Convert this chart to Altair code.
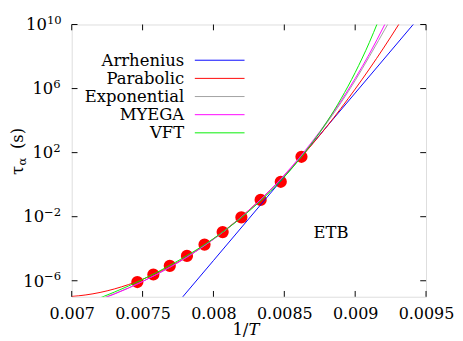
import altair as alt
import pandas as pd

# ---------------- data (1/T in K^-1, log10 of tau_alpha in s) ----------------
pts_invT = [0.007463, 0.007576, 0.007692, 0.007813, 0.007937, 0.008065,
            0.008197, 0.008333, 0.008475, 0.008621]
pts_log = [-6.08, -5.61, -5.07, -4.45, -3.74, -2.96, -2.04, -0.95, 0.18, 1.74]

arrh_invT = [0.0077, 0.0078, 0.0080, 0.0085, 0.0090, 0.0095]
arrh_log = [-7.88, -6.83, -4.74, 0.49, 5.72, 10.95]

para_invT = [0.0069, 0.0070, 0.0072, 0.0074, 0.0076, 0.0078, 0.0080, 0.0082,
             0.0084, 0.0086, 0.0088, 0.0090, 0.0092, 0.00931]
para_log = [-7.02, -6.98, -6.73, -6.24, -5.52, -4.57, -3.39, -1.98,
            -0.34, 1.53, 3.63, 5.97, 8.53, 10.04]

expo_invT = [0.0072, 0.0074, 0.0076, 0.0078, 0.0080, 0.0082, 0.0084, 0.0086,
             0.0088, 0.0090, 0.0091, 0.00923]
expo_log = [-7.15, -6.45, -5.60, -4.60, -3.41, -2.01, -0.36, 1.58,
            3.85, 6.50, 8.00, 10.02]

myega_invT = [0.0072, 0.0074, 0.0076, 0.0078, 0.0080, 0.0082, 0.0084, 0.0086,
              0.0088, 0.0090, 0.0091, 0.00921]
myega_log = [-7.18, -6.46, -5.60, -4.59, -3.40, -2.00, -0.34, 1.62,
             3.92, 6.63, 8.16, 10.02]

vft_invT = [0.0072, 0.0074, 0.0076, 0.0078, 0.0080, 0.0082, 0.0084, 0.0086,
            0.0088, 0.0089, 0.0090, 0.0091, 0.00916]
vft_log = [-7.07, -6.33, -5.48, -4.50, -3.37, -2.03, -0.44, 1.51,
           3.92, 5.36, 7.00, 8.88, 10.15]

model_names = ["Arrhenius", "Parabolic", "Exponential", "MYEGA", "VFT"]
model_colors = ["#0000ff", "#ff0000", "#a0a0a0", "#ff00ff", "#00ee00"]
model_x = [arrh_invT, para_invT, expo_invT, myega_invT, vft_invT]
model_y = [arrh_log, para_log, expo_log, myega_log, vft_log]

x_ticks = [0.007, 0.0075, 0.008, 0.0085, 0.009, 0.0095]
y_exps = [-6, -2, 2, 6, 10]

# ---------------- chart ----------------
W, H = 367, 282
FONT = "DejaVu Serif"
FS = 17
xscale = alt.Scale(domain=[0.007, 0.0095], nice=False, zero=False)
yscale = alt.Scale(type="log", domain=[1e-7, 1e10], nice=False)

pts_df = pd.DataFrame({"x": pts_invT, "tau": [10 ** v for v in pts_log]})
points = alt.Chart(pts_df).mark_circle(color="#ff0000", opacity=1, size=160).encode(
    x=alt.X("x:Q", scale=xscale,
            axis=alt.Axis(values=x_ticks, format="~g", title=None, labelFont=FONT,
                          labelFontSize=16.5, labelColor="black", ticks=False, domain=False,
                          grid=False, labelBaseline="alphabetic", labelPadding=23,
                          labelFlush=False, labelOverlap=False)),
    y=alt.Y("tau:Q", scale=yscale, axis=None),
)

layers = [points]
for name, col, xs, ys in zip(model_names, model_colors, model_x, model_y):
    df = pd.DataFrame({"x": xs, "tau": [10 ** v for v in ys]})
    layers.append(
        alt.Chart(df).mark_line(color=col, strokeWidth=1, clip=True, interpolate="monotone").encode(
            x=alt.X("x:Q", scale=xscale), y=alt.Y("tau:Q", scale=yscale))
    )

# inward ticks on all four sides
xt_df = pd.DataFrame({"v": x_ticks})
yt_df = pd.DataFrame({"v": [10.0 ** e for e in y_exps]})
for y0, y1 in [(H, H - 6), (0, 6)]:
    layers.append(alt.Chart(xt_df).mark_rule(color="black", strokeWidth=1).encode(
        x=alt.X("v:Q", scale=xscale), y=alt.value(y0), y2=alt.value(y1)))
for x0, x1 in [(0, 6), (W, W - 6)]:
    layers.append(alt.Chart(yt_df).mark_rule(color="black", strokeWidth=1).encode(
        y=alt.Y("v:Q", scale=yscale), x=alt.value(x0), x2=alt.value(x1)))

# y tick labels 10^n
ylab = alt.Chart(pd.DataFrame({"e": y_exps})).transform_calculate(
    tau="pow(10, datum.e)",
    etxt="(datum.e < 0 ? '\u2212' : '') + abs(datum.e)",
    xe="-12.5 - 6.6*length(toString(abs(datum.e))) - (datum.e < 0 ? 9.5 : 0)",
)
layers.append(ylab.mark_text(align="right", baseline="alphabetic", dy=6, font=FONT,
                             fontSize=FS, color="black").encode(
    x=alt.X("xe:Q", scale=None), y=alt.Y("tau:Q", scale=yscale), text=alt.value("10")))
layers.append(ylab.mark_text(align="left", baseline="alphabetic", dy=-1, font=FONT,
                             fontSize=12, color="black").encode(
    x=alt.X("xe:Q", scale=None), y=alt.Y("tau:Q", scale=yscale), text="etxt:N"))

one = pd.DataFrame({"a": [0]})
# y title: tau_alpha (s), rotated
layers.append(alt.Chart(one).mark_text(angle=270, align="left", baseline="alphabetic",
                                       font=FONT, fontSize=FS, color="black").encode(
    x=alt.value(-50), y=alt.value(156), text=alt.value("\u03c4")))
layers.append(alt.Chart(one).mark_text(angle=270, align="left", baseline="alphabetic",
                                       font=FONT, fontSize=12, color="black").encode(
    x=alt.value(-47), y=alt.value(146), text=alt.value("\u03b1")))
layers.append(alt.Chart(one).mark_text(angle=270, align="left", baseline="alphabetic",
                                       font=FONT, fontSize=FS, color="black").encode(
    x=alt.value(-50), y=alt.value(129), text=alt.value("(s)")))

# x title: 1/T
layers.append(alt.Chart(one).mark_text(align="right", baseline="alphabetic",
                                       font=FONT, fontSize=FS, color="black").encode(
    x=alt.value(183), y=alt.value(322), text=alt.value("1/")))
layers.append(alt.Chart(one).mark_text(align="left", baseline="alphabetic", fontStyle="italic",
                                       font=FONT, fontSize=FS, color="black").encode(
    x=alt.value(183), y=alt.value(322), text=alt.value("T")))

# annotation
layers.append(alt.Chart(one).mark_text(align="center", baseline="alphabetic",
                                       font=FONT, fontSize=FS, color="black").encode(
    x=alt.value(268.5), y=alt.value(221), text=alt.value("ETB")))

# legend
row0, step = 37, 18.8
for i, (name, col) in enumerate(zip(model_names, model_colors)):
    yy = row0 + i * step
    layers.append(alt.Chart(one).mark_text(align="right", baseline="alphabetic",
                                           font=FONT, fontSize=FS, color="black").encode(
        x=alt.value(116.5), y=alt.value(yy + 5.5), text=alt.value(name)))
    layers.append(alt.Chart(one).mark_rule(color=col, strokeWidth=1).encode(
        x=alt.value(127.5), x2=alt.value(179), y=alt.value(yy)))

chart = alt.layer(*layers).properties(
    width=W, height=H,
    autosize=alt.AutoSizeParams(type="none"),
    padding={"left": 66, "top": 11, "right": 30, "bottom": 48},
).configure_view(stroke="black", strokeWidth=1).configure(background="white")

chart.save("out.html", embed_options={"renderer": "svg", "actions": False})
